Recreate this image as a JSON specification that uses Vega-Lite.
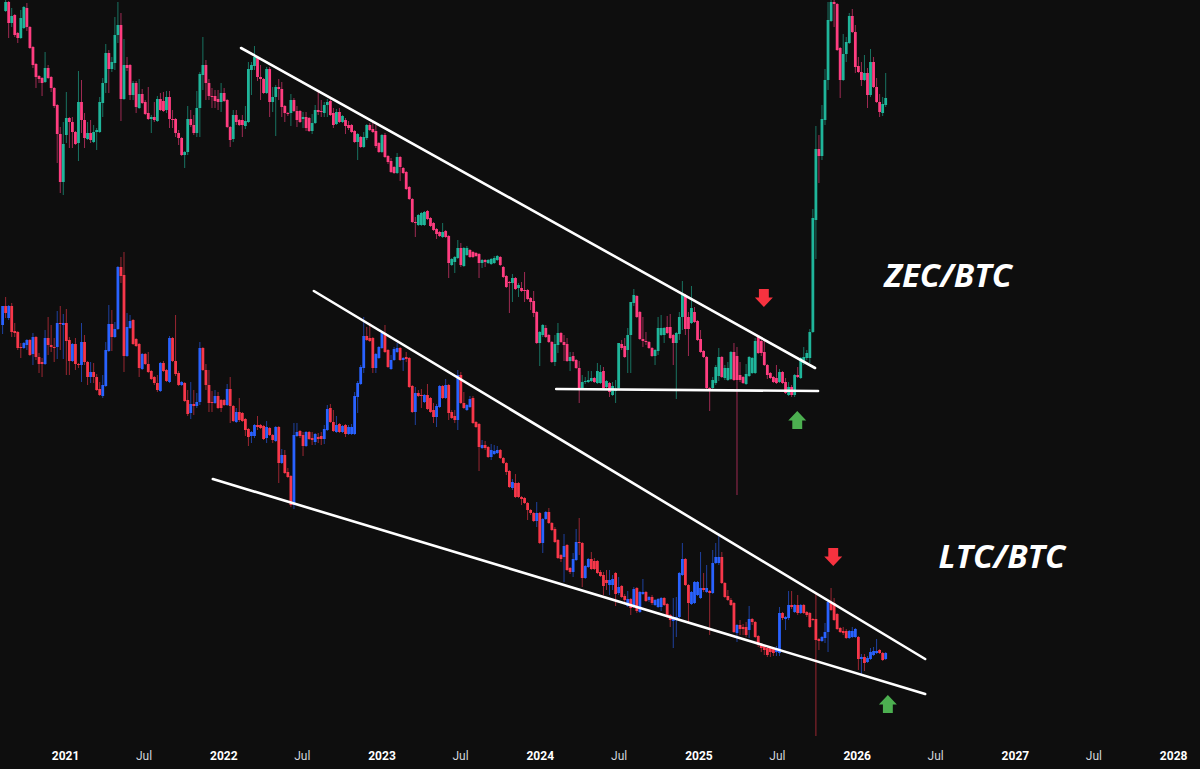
{"$schema":"https://vega.github.io/schema/vega-lite/v6.json","width":1200,"height":769,"padding":0,"autosize":{"type":"none"},"background":"#0e0e0e","view":{"stroke":null},
"datasets":{"candles":[
{"t":"2020-08-10","lo":444,"lh":463,"ll":435,"lc":463},
{"t":"2020-08-17","zo":758,"zh":769,"zl":757,"zc":767,"lo":463,"lh":472,"ll":451,"lc":456},
{"t":"2020-08-24","zo":767,"zh":768,"zl":731,"zc":746,"lo":451,"lh":464,"ll":449,"lc":463},
{"t":"2020-08-31","zo":746,"zh":761,"zl":742,"zc":753,"lo":463,"lh":466,"ll":432,"lc":437},
{"t":"2020-09-07","zo":754,"zh":755,"zl":732,"zc":734,"lo":438,"lh":446,"ll":432,"lc":436},
{"t":"2020-09-14","zo":736,"zh":737,"zl":726,"zc":731,"lo":437,"lh":438,"ll":419,"lc":421},
{"t":"2020-09-21","zo":731,"zh":759,"zl":730,"zc":751,"lo":422,"lh":426,"ll":411,"lc":421},
{"t":"2020-09-28","zo":741,"zh":763,"zl":740,"zc":762,"lo":421,"lh":427,"ll":420,"lc":426},
{"t":"2020-10-05","zo":761,"zh":766,"zl":738,"zc":742,"lo":424,"lh":430,"ll":419,"lc":429},
{"t":"2020-10-12","zo":742,"zh":743,"zl":720,"zc":721,"lo":429,"lh":430,"ll":413,"lc":414},
{"t":"2020-10-19","zo":722,"zh":723,"zl":701,"zc":704,"lo":415,"lh":436,"ll":404,"lc":432},
{"t":"2020-10-26","zo":705,"zh":706,"zl":681,"zc":692,"lo":432,"lh":433,"ll":409,"lc":412},
{"t":"2020-11-02","zo":693,"zh":694,"zl":686,"zc":690,"lo":412,"lh":416,"ll":396,"lc":405},
{"t":"2020-11-09","zo":691,"zh":692,"zl":673,"zc":686,"lo":407,"lh":411,"ll":392,"lc":405},
{"t":"2020-11-16","zo":687,"zh":717,"zl":686,"zc":701,"lo":405,"lh":439,"ll":404,"lc":431},
{"t":"2020-11-23","zo":701,"zh":704,"zl":690,"zc":691,"lo":431,"lh":452,"ll":414,"lc":424},
{"t":"2020-11-30","zo":692,"zh":693,"zl":677,"zc":681,"lo":424,"lh":444,"ll":417,"lc":422},
{"t":"2020-12-07","zo":681,"zh":682,"zl":661,"zc":663,"lo":422,"lh":431,"ll":407,"lc":421},
{"t":"2020-12-14","zo":664,"zh":665,"zl":606,"zc":635,"lo":422,"lh":458,"ll":410,"lc":446},
{"t":"2020-12-21","zo":635,"zh":642,"zl":576,"zc":587,"lo":446,"lh":463,"ll":419,"lc":445},
{"t":"2020-12-28","zo":587,"zh":647,"zl":574,"zc":625,"lo":444,"lh":455,"ll":410,"lc":446},
{"t":"2021-01-04","zo":634,"zh":677,"zl":626,"zc":651,"lo":446,"lh":460,"ll":394,"lc":428},
{"t":"2021-01-11","zo":651,"zh":652,"zl":621,"zc":647,"lo":429,"lh":432,"ll":394,"lc":408},
{"t":"2021-01-18","zo":647,"zh":652,"zl":621,"zc":637,"lo":408,"lh":426,"ll":407,"lc":425},
{"t":"2021-01-25","zo":637,"zh":638,"zl":624,"zc":625,"lo":425,"lh":431,"ll":399,"lc":405},
{"t":"2021-02-01","zo":626,"zh":698,"zl":608,"zc":667,"lo":405,"lh":406,"ll":401,"lc":404},
{"t":"2021-02-08","zo":667,"zh":689,"zl":636,"zc":649,"lo":404,"lh":446,"ll":387,"lc":427},
{"t":"2021-02-15","zo":649,"zh":656,"zl":621,"zc":631,"lo":427,"lh":434,"ll":404,"lc":407},
{"t":"2021-02-22","zo":630,"zh":647,"zl":629,"zc":636,"lo":407,"lh":408,"ll":384,"lc":392},
{"t":"2021-03-01","zo":636,"zh":649,"zl":626,"zc":629,"lo":392,"lh":407,"ll":386,"lc":397},
{"t":"2021-03-08","zo":627,"zh":644,"zl":626,"zc":637,"lo":397,"lh":406,"ll":386,"lc":392},
{"t":"2021-03-15","zo":637,"zh":641,"zl":619,"zc":639,"lo":392,"lh":395,"ll":378,"lc":379},
{"t":"2021-03-22","zo":637,"zh":672,"zl":636,"zc":667,"lo":380,"lh":387,"ll":373,"lc":374},
{"t":"2021-03-29","zo":666,"zh":691,"zl":652,"zc":686,"lo":373,"lh":394,"ll":371,"lc":384},
{"t":"2021-04-05","zo":686,"zh":725,"zl":676,"zc":716,"lo":383,"lh":427,"ll":382,"lc":419},
{"t":"2021-04-12","zo":716,"zh":719,"zl":676,"zc":700,"lo":418,"lh":464,"ll":417,"lc":445},
{"t":"2021-04-19","zo":700,"zh":712,"zl":697,"zc":707,"lo":445,"lh":459,"ll":418,"lc":432},
{"t":"2021-04-26","zo":706,"zh":752,"zl":699,"zc":734,"lo":432,"lh":447,"ll":431,"lc":440},
{"t":"2021-05-03","zo":734,"zh":767,"zl":726,"zc":744,"lo":440,"lh":503,"ll":439,"lc":502},
{"t":"2021-05-10","zo":744,"zh":756,"zl":648,"zc":670,"lo":502,"lh":512,"ll":486,"lc":493},
{"t":"2021-05-17","zo":670,"zh":730,"zl":669,"zc":704,"lo":494,"lh":517,"ll":397,"lc":413},
{"t":"2021-05-24","zo":704,"zh":712,"zl":698,"zc":701,"lo":413,"lh":456,"ll":412,"lc":442},
{"t":"2021-05-31","zo":704,"zh":705,"zl":669,"zc":674,"lo":441,"lh":454,"ll":440,"lc":448},
{"t":"2021-06-07","zo":674,"zh":688,"zl":669,"zc":686,"lo":449,"lh":450,"ll":424,"lc":425},
{"t":"2021-06-14","zo":686,"zh":688,"zl":656,"zc":662,"lo":430,"lh":431,"ll":422,"lc":423},
{"t":"2021-06-21","zo":661,"zh":690,"zl":660,"zc":675,"lo":425,"lh":426,"ll":392,"lc":401},
{"t":"2021-06-28","zo":675,"zh":680,"zl":665,"zc":666,"lo":400,"lh":416,"ll":399,"lc":415},
{"t":"2021-07-05","zo":667,"zh":669,"zl":654,"zc":655,"lo":415,"lh":416,"ll":404,"lc":405},
{"t":"2021-07-12","zo":656,"zh":682,"zl":649,"zc":650,"lo":405,"lh":417,"ll":396,"lc":397},
{"t":"2021-07-19","zo":650,"zh":654,"zl":636,"zc":652,"lo":398,"lh":399,"ll":389,"lc":390},
{"t":"2021-07-26","zo":652,"zh":667,"zl":647,"zc":649,"lo":392,"lh":393,"ll":384,"lc":386},
{"t":"2021-08-02","zo":648,"zh":673,"zl":647,"zc":670,"lo":386,"lh":394,"ll":377,"lc":379},
{"t":"2021-08-09","zo":670,"zh":676,"zl":658,"zc":659,"lo":378,"lh":407,"ll":377,"lc":406},
{"t":"2021-08-16","zo":668,"zh":677,"zl":657,"zc":658,"lo":406,"lh":408,"ll":397,"lc":398},
{"t":"2021-08-23","zo":659,"zh":678,"zl":656,"zc":672,"lo":399,"lh":400,"ll":387,"lc":388},
{"t":"2021-08-30","zo":672,"zh":678,"zl":641,"zc":650,"lo":387,"lh":433,"ll":386,"lc":431},
{"t":"2021-09-06","zo":650,"zh":659,"zl":641,"zc":649,"lo":431,"lh":432,"ll":407,"lc":408},
{"t":"2021-09-13","zo":650,"zh":651,"zl":632,"zc":636,"lo":408,"lh":454,"ll":393,"lc":395},
{"t":"2021-09-20","zo":636,"zh":639,"zl":624,"zc":631,"lo":396,"lh":398,"ll":383,"lc":384},
{"t":"2021-09-27","zo":631,"zh":632,"zl":613,"zc":614,"lo":384,"lh":388,"ll":383,"lc":387},
{"t":"2021-10-04","zo":614,"zh":618,"zl":601,"zc":617,"lo":386,"lh":387,"ll":367,"lc":368},
{"t":"2021-10-11","zo":617,"zh":663,"zl":614,"zc":650,"lo":369,"lh":379,"ll":353,"lc":355},
{"t":"2021-10-18","zo":650,"zh":659,"zl":642,"zc":644,"lo":356,"lh":387,"ll":350,"lc":365},
{"t":"2021-10-25","zo":644,"zh":654,"zl":634,"zc":636,"lo":365,"lh":379,"ll":354,"lc":363},
{"t":"2021-11-01","zo":636,"zh":678,"zl":632,"zc":661,"lo":363,"lh":376,"ll":361,"lc":367},
{"t":"2021-11-08","zo":661,"zh":697,"zl":632,"zc":695,"lo":367,"lh":427,"ll":364,"lc":421},
{"t":"2021-11-15","zo":694,"zh":732,"zl":679,"zc":704,"lo":421,"lh":422,"ll":398,"lc":399},
{"t":"2021-11-22","zo":704,"zh":709,"zl":669,"zc":686,"lo":399,"lh":405,"ll":379,"lc":384},
{"t":"2021-11-29","zo":686,"zh":690,"zl":669,"zc":673,"lo":384,"lh":399,"ll":357,"lc":366},
{"t":"2021-12-06","zo":673,"zh":681,"zl":661,"zc":672,"lo":367,"lh":378,"ll":357,"lc":366},
{"t":"2021-12-13","zo":673,"zh":679,"zl":661,"zc":668,"lo":366,"lh":379,"ll":365,"lc":373},
{"t":"2021-12-20","zo":670,"zh":679,"zl":659,"zc":667,"lo":373,"lh":377,"ll":360,"lc":361},
{"t":"2021-12-27","zo":667,"zh":686,"zl":657,"zc":676,"lo":369,"lh":370,"ll":357,"lc":361},
{"t":"2022-01-03","zo":676,"zh":681,"zl":667,"zc":668,"lo":369,"lh":370,"ll":363,"lc":364},
{"t":"2022-01-10","zo":669,"zh":670,"zl":641,"zc":642,"lo":364,"lh":385,"ll":363,"lc":380},
{"t":"2022-01-17","zo":642,"zh":643,"zl":622,"zc":629,"lo":380,"lh":392,"ll":346,"lc":363},
{"t":"2022-01-24","zo":630,"zh":659,"zl":627,"zc":654,"lo":363,"lh":364,"ll":347,"lc":348},
{"t":"2022-01-31","zo":654,"zh":659,"zl":644,"zc":647,"lo":347,"lh":361,"ll":346,"lc":357},
{"t":"2022-02-07","zo":649,"zh":650,"zl":643,"zc":644,"lo":357,"lh":371,"ll":347,"lc":349},
{"t":"2022-02-14","zo":649,"zh":654,"zl":632,"zc":644,"lo":356,"lh":357,"ll":347,"lc":348},
{"t":"2022-02-21","zo":643,"zh":663,"zl":640,"zc":648,"lo":350,"lh":351,"ll":333,"lc":339},
{"t":"2022-02-28","zo":647,"zh":707,"zl":646,"zc":700,"lo":340,"lh":341,"ll":323,"lc":332},
{"t":"2022-03-07","zo":699,"zh":707,"zl":674,"zc":704,"lo":333,"lh":338,"ll":326,"lc":337},
{"t":"2022-03-14","zo":703,"zh":723,"zl":699,"zc":712,"lo":333,"lh":345,"ll":331,"lc":344},
{"t":"2022-03-21","zo":712,"zh":713,"zl":688,"zc":692,"lo":344,"lh":353,"ll":339,"lc":342},
{"t":"2022-03-28","zo":692,"zh":704,"zl":669,"zc":690,"lo":344,"lh":345,"ll":340,"lc":341},
{"t":"2022-04-04","zo":690,"zh":691,"zl":675,"zc":676,"lo":343,"lh":344,"ll":329,"lc":330},
{"t":"2022-04-11","zo":676,"zh":702,"zl":675,"zc":700,"lo":331,"lh":348,"ll":326,"lc":342},
{"t":"2022-04-18","zo":700,"zh":702,"zl":652,"zc":667,"lo":341,"lh":342,"ll":333,"lc":334},
{"t":"2022-04-25","zo":667,"zh":682,"zl":657,"zc":672,"lo":334,"lh":335,"ll":326,"lc":329},
{"t":"2022-05-02","zo":672,"zh":684,"zl":633,"zc":682,"lo":328,"lh":343,"ll":327,"lc":342},
{"t":"2022-05-09","zo":682,"zh":690,"zl":669,"zc":680,"lo":342,"lh":343,"ll":286,"lc":306},
{"t":"2022-05-16","zo":680,"zh":687,"zl":652,"zc":662,"lo":306,"lh":320,"ll":305,"lc":314},
{"t":"2022-05-23","zo":663,"zh":664,"zl":647,"zc":656,"lo":314,"lh":319,"ll":295,"lc":296},
{"t":"2022-05-30","zo":656,"zh":657,"zl":653,"zc":655,"lo":297,"lh":301,"ll":291,"lc":292},
{"t":"2022-06-06","zo":656,"zh":675,"zl":643,"zc":669,"lo":293,"lh":294,"ll":262,"lc":264},
{"t":"2022-06-13","zo":669,"zh":671,"zl":657,"zc":658,"lo":264,"lh":346,"ll":260,"lc":334},
{"t":"2022-06-20","zo":658,"zh":663,"zl":642,"zc":649,"lo":333,"lh":346,"ll":332,"lc":337},
{"t":"2022-06-27","zo":658,"zh":659,"zl":646,"zc":647,"lo":338,"lh":339,"ll":331,"lc":333},
{"t":"2022-07-04","zo":650,"zh":657,"zl":641,"zc":652,"lo":334,"lh":337,"ll":313,"lc":323},
{"t":"2022-07-11","zo":652,"zh":657,"zl":638,"zc":641,"lo":323,"lh":338,"ll":322,"lc":337},
{"t":"2022-07-18","zo":651,"zh":652,"zl":637,"zc":638,"lo":337,"lh":338,"ll":329,"lc":330},
{"t":"2022-07-25","zo":638,"zh":655,"zl":635,"zc":646,"lo":331,"lh":337,"ll":324,"lc":329},
{"t":"2022-08-01","zo":646,"zh":664,"zl":645,"zc":659,"lo":327,"lh":336,"ll":324,"lc":335},
{"t":"2022-08-08","zo":659,"zh":678,"zl":654,"zc":657,"lo":332,"lh":336,"ll":326,"lc":330},
{"t":"2022-08-15","zo":658,"zh":669,"zl":652,"zc":657,"lo":333,"lh":337,"ll":324,"lc":330},
{"t":"2022-08-22","zo":656,"zh":667,"zl":652,"zc":664,"lo":330,"lh":344,"ll":325,"lc":340},
{"t":"2022-08-29","zo":664,"zh":670,"zl":652,"zc":667,"lo":339,"lh":364,"ll":338,"lc":360},
{"t":"2022-09-05","zo":668,"zh":670,"zl":653,"zc":654,"lo":361,"lh":365,"ll":346,"lc":347},
{"t":"2022-09-12","zo":656,"zh":661,"zl":641,"zc":644,"lo":347,"lh":359,"ll":337,"lc":338},
{"t":"2022-09-19","zo":645,"zh":660,"zl":644,"zc":657,"lo":337,"lh":353,"ll":336,"lc":344},
{"t":"2022-09-26","zo":657,"zh":661,"zl":646,"zc":647,"lo":345,"lh":346,"ll":336,"lc":337},
{"t":"2022-10-03","zo":647,"zh":654,"zl":646,"zc":653,"lo":337,"lh":344,"ll":336,"lc":343},
{"t":"2022-10-10","zo":649,"zh":651,"zl":635,"zc":643,"lo":344,"lh":345,"ll":332,"lc":335},
{"t":"2022-10-17","zo":644,"zh":648,"zl":639,"zc":641,"lo":335,"lh":344,"ll":334,"lc":342},
{"t":"2022-10-24","zo":644,"zh":645,"zl":636,"zc":637,"lo":335,"lh":345,"ll":334,"lc":342},
{"t":"2022-10-31","zo":638,"zh":639,"zl":626,"zc":627,"lo":335,"lh":377,"ll":334,"lc":373},
{"t":"2022-11-07","zo":627,"zh":636,"zl":609,"zc":635,"lo":372,"lh":388,"ll":356,"lc":386},
{"t":"2022-11-14","zo":632,"zh":633,"zl":621,"zc":622,"lo":385,"lh":404,"ll":384,"lc":402},
{"t":"2022-11-21","zo":622,"zh":637,"zl":621,"zc":632,"lo":401,"lh":452,"ll":396,"lc":433},
{"t":"2022-11-28","zo":631,"zh":645,"zl":629,"zc":644,"lo":433,"lh":442,"ll":428,"lc":429},
{"t":"2022-12-05","zo":644,"zh":646,"zl":638,"zc":639,"lo":431,"lh":446,"ll":427,"lc":428},
{"t":"2022-12-12","zo":640,"zh":646,"zl":636,"zc":637,"lo":431,"lh":432,"ll":396,"lc":401},
{"t":"2022-12-19","zo":638,"zh":644,"zl":621,"zc":623,"lo":401,"lh":416,"ll":396,"lc":415},
{"t":"2022-12-26","zo":626,"zh":627,"zl":616,"zc":617,"lo":411,"lh":423,"ll":410,"lc":422},
{"t":"2023-01-02","zo":617,"zh":635,"zl":616,"zc":634,"lo":421,"lh":438,"ll":420,"lc":436},
{"t":"2023-01-09","zo":634,"zh":636,"zl":611,"zc":612,"lo":436,"lh":444,"ll":416,"lc":417},
{"t":"2023-01-16","zo":613,"zh":614,"zl":605,"zc":607,"lo":419,"lh":420,"ll":401,"lc":402},
{"t":"2023-01-23","zo":608,"zh":611,"zl":596,"zc":597,"lo":400,"lh":414,"ll":399,"lc":409},
{"t":"2023-01-30","zo":602,"zh":603,"zl":595,"zc":596,"lo":409,"lh":422,"ll":408,"lc":420},
{"t":"2023-02-06","zo":596,"zh":616,"zl":595,"zc":612,"lo":417,"lh":426,"ll":416,"lc":421},
{"t":"2023-02-13","zo":612,"zh":613,"zl":588,"zc":602,"lo":421,"lh":422,"ll":408,"lc":409},
{"t":"2023-02-20","zo":601,"zh":602,"zl":595,"zc":596,"lo":409,"lh":412,"ll":398,"lc":411},
{"t":"2023-02-27","zo":597,"zh":598,"zl":579,"zc":580,"lo":412,"lh":417,"ll":407,"lc":410},
{"t":"2023-03-06","zo":582,"zh":583,"zl":569,"zc":570,"lo":411,"lh":412,"ll":381,"lc":382},
{"t":"2023-03-13","zo":570,"zh":571,"zl":546,"zc":547,"lo":383,"lh":384,"ll":356,"lc":357},
{"t":"2023-03-20","zo":547,"zh":552,"zl":532,"zc":546,"lo":357,"lh":382,"ll":344,"lc":376},
{"t":"2023-03-27","zo":544,"zh":555,"zl":543,"zc":554,"lo":376,"lh":379,"ll":372,"lc":373},
{"t":"2023-04-03","zo":544,"zh":557,"zl":543,"zc":556,"lo":374,"lh":380,"ll":361,"lc":373},
{"t":"2023-04-10","zo":544,"zh":558,"zl":543,"zc":557,"lo":367,"lh":375,"ll":366,"lc":374},
{"t":"2023-04-17","zo":558,"zh":559,"zl":549,"zc":550,"lo":374,"lh":385,"ll":359,"lc":360},
{"t":"2023-04-24","zo":551,"zh":552,"zl":542,"zc":543,"lo":371,"lh":372,"ll":356,"lc":357},
{"t":"2023-05-01","zo":546,"zh":547,"zl":538,"zc":539,"lo":359,"lh":366,"ll":346,"lc":352},
{"t":"2023-05-08","zo":540,"zh":541,"zl":530,"zc":535,"lo":352,"lh":365,"ll":342,"lc":363},
{"t":"2023-05-15","zo":537,"zh":538,"zl":532,"zc":533,"lo":362,"lh":384,"ll":361,"lc":383},
{"t":"2023-05-22","zo":532,"zh":546,"zl":531,"zc":537,"lo":383,"lh":384,"ll":370,"lc":371},
{"t":"2023-05-29","zo":538,"zh":539,"zl":531,"zc":532,"lo":371,"lh":390,"ll":370,"lc":384},
{"t":"2023-06-05","zo":533,"zh":534,"zl":491,"zc":506,"lo":384,"lh":385,"ll":349,"lc":356},
{"t":"2023-06-12","zo":504,"zh":511,"zl":503,"zc":510,"lo":357,"lh":359,"ll":350,"lc":351},
{"t":"2023-06-19","zo":507,"zh":513,"zl":496,"zc":512,"lo":353,"lh":359,"ll":346,"lc":349},
{"t":"2023-06-26","zo":511,"zh":529,"zl":510,"zc":521,"lo":349,"lh":399,"ll":339,"lc":394},
{"t":"2023-07-03","zo":521,"zh":526,"zl":502,"zc":504,"lo":394,"lh":397,"ll":365,"lc":366},
{"t":"2023-07-10","zo":503,"zh":522,"zl":502,"zc":521,"lo":366,"lh":377,"ll":360,"lc":361},
{"t":"2023-07-17","zo":514,"zh":523,"zl":513,"zc":521,"lo":359,"lh":365,"ll":358,"lc":364},
{"t":"2023-07-24","zo":519,"zh":520,"zl":511,"zc":512,"lo":362,"lh":373,"ll":361,"lc":370},
{"t":"2023-07-31","zo":517,"zh":518,"zl":511,"zc":512,"lo":371,"lh":373,"ll":345,"lc":346},
{"t":"2023-08-07","zo":516,"zh":517,"zl":512,"zc":513,"lo":347,"lh":348,"ll":341,"lc":342},
{"t":"2023-08-14","zo":515,"zh":516,"zl":491,"zc":506,"lo":345,"lh":346,"ll":298,"lc":322},
{"t":"2023-08-21","zo":506,"zh":510,"zl":501,"zc":509,"lo":321,"lh":329,"ll":320,"lc":324},
{"t":"2023-08-28","zo":509,"zh":510,"zl":502,"zc":507,"lo":324,"lh":328,"ll":319,"lc":321},
{"t":"2023-09-04","zo":506,"zh":510,"zl":505,"zc":509,"lo":322,"lh":323,"ll":311,"lc":312},
{"t":"2023-09-11","zo":505,"zh":511,"zl":504,"zc":510,"lo":312,"lh":325,"ll":309,"lc":319},
{"t":"2023-09-18","zo":506,"zh":513,"zl":505,"zc":511,"lo":315,"lh":324,"ll":314,"lc":318},
{"t":"2023-09-25","zo":509,"zh":514,"zl":508,"zc":513,"lo":316,"lh":323,"ll":315,"lc":319},
{"t":"2023-10-02","zo":512,"zh":513,"zl":503,"zc":504,"lo":319,"lh":320,"ll":310,"lc":311},
{"t":"2023-10-09","zo":502,"zh":503,"zl":491,"zc":492,"lo":311,"lh":312,"ll":305,"lc":306},
{"t":"2023-10-16","zo":493,"zh":494,"zl":481,"zc":482,"lo":306,"lh":307,"ll":294,"lc":297},
{"t":"2023-10-23","zo":487,"zh":488,"zl":456,"zc":486,"lo":298,"lh":299,"ll":281,"lc":282},
{"t":"2023-10-30","zo":486,"zh":495,"zl":467,"zc":491,"lo":281,"lh":290,"ll":279,"lc":287},
{"t":"2023-11-06","zo":491,"zh":492,"zl":479,"zc":480,"lo":286,"lh":295,"ll":271,"lc":272},
{"t":"2023-11-13","zo":481,"zh":486,"zl":472,"zc":484,"lo":286,"lh":287,"ll":271,"lc":272},
{"t":"2023-11-20","zo":481,"zh":487,"zl":477,"zc":478,"lo":272,"lh":273,"ll":264,"lc":270},
{"t":"2023-11-27","zo":479,"zh":497,"zl":467,"zc":478,"lo":271,"lh":272,"ll":265,"lc":266},
{"t":"2023-12-04","zo":479,"zh":480,"zl":469,"zc":470,"lo":266,"lh":267,"ll":249,"lc":259},
{"t":"2023-12-11","zo":471,"zh":472,"zl":459,"zc":467,"lo":259,"lh":260,"ll":254,"lc":256},
{"t":"2023-12-18","zo":468,"zh":478,"zl":452,"zc":456,"lo":256,"lh":257,"ll":247,"lc":248},
{"t":"2023-12-25","zo":457,"zh":458,"zl":425,"zc":426,"lo":248,"lh":267,"ll":242,"lc":256},
{"t":"2024-01-01","zo":426,"zh":438,"zl":403,"zc":437,"lo":256,"lh":257,"ll":225,"lc":226},
{"t":"2024-01-08","zo":434,"zh":445,"zl":432,"zc":444,"lo":226,"lh":251,"ll":216,"lc":250},
{"t":"2024-01-15","zo":441,"zh":444,"zl":431,"zc":432,"lo":250,"lh":258,"ll":249,"lc":257},
{"t":"2024-01-22","zo":434,"zh":435,"zl":426,"zc":427,"lo":257,"lh":261,"ll":245,"lc":246},
{"t":"2024-01-29","zo":427,"zh":428,"zl":406,"zc":407,"lo":246,"lh":247,"ll":238,"lc":239},
{"t":"2024-02-05","zo":407,"zh":434,"zl":403,"zc":425,"lo":240,"lh":242,"ll":226,"lc":227},
{"t":"2024-02-12","zo":424,"zh":446,"zl":416,"zc":436,"lo":229,"lh":230,"ll":210,"lc":211},
{"t":"2024-02-19","zo":436,"zh":437,"zl":426,"zc":427,"lo":214,"lh":215,"ll":207,"lc":210},
{"t":"2024-02-26","zo":427,"zh":434,"zl":408,"zc":424,"lo":212,"lh":235,"ll":187,"lc":223},
{"t":"2024-03-04","zo":425,"zh":431,"zl":407,"zc":408,"lo":224,"lh":225,"ll":198,"lc":199},
{"t":"2024-03-11","zo":408,"zh":417,"zl":398,"zc":412,"lo":201,"lh":202,"ll":195,"lc":197},
{"t":"2024-03-18","zo":413,"zh":417,"zl":407,"zc":408,"lo":197,"lh":216,"ll":192,"lc":210},
{"t":"2024-03-25","zo":409,"zh":410,"zl":400,"zc":401,"lo":209,"lh":240,"ll":208,"lc":227},
{"t":"2024-04-01","zo":401,"zh":408,"zl":366,"zc":380,"lo":227,"lh":251,"ll":214,"lc":226},
{"t":"2024-04-08","zo":380,"zh":394,"zl":379,"zc":387,"lo":226,"lh":227,"ll":182,"lc":191},
{"t":"2024-04-15","zo":387,"zh":392,"zl":385,"zc":388,"lo":191,"lh":204,"ll":190,"lc":203},
{"t":"2024-04-22","zo":387,"zh":398,"zl":386,"zc":389,"lo":202,"lh":211,"ll":201,"lc":210},
{"t":"2024-04-29","zo":388,"zh":398,"zl":387,"zc":391,"lo":210,"lh":217,"ll":199,"lc":200},
{"t":"2024-05-06","zo":391,"zh":392,"zl":386,"zc":387,"lo":208,"lh":211,"ll":199,"lc":200},
{"t":"2024-05-13","zo":386,"zh":406,"zl":385,"zc":398,"lo":208,"lh":209,"ll":195,"lc":196},
{"t":"2024-05-20","zo":386,"zh":404,"zl":385,"zc":397,"lo":197,"lh":199,"ll":192,"lc":193},
{"t":"2024-05-27","zo":398,"zh":402,"zl":380,"zc":381,"lo":194,"lh":197,"ll":174,"lc":183},
{"t":"2024-06-03","zo":382,"zh":389,"zl":381,"zc":388,"lo":189,"lh":199,"ll":179,"lc":186},
{"t":"2024-06-10","zo":386,"zh":387,"zl":372,"zc":377,"lo":184,"lh":199,"ll":174,"lc":189},
{"t":"2024-06-17","zo":374,"zh":387,"zl":373,"zc":383,"lo":184,"lh":194,"ll":179,"lc":190},
{"t":"2024-06-24","zo":378,"zh":389,"zl":366,"zc":380,"lo":196,"lh":197,"ll":163,"lc":175},
{"t":"2024-07-01","zo":381,"zh":426,"zl":380,"zc":426,"lo":176,"lh":192,"ll":174,"lc":182},
{"t":"2024-07-08","zo":425,"zh":429,"zl":419,"zc":421,"lo":183,"lh":184,"ll":171,"lc":172},
{"t":"2024-07-15","zo":423,"zh":431,"zl":411,"zc":412,"lo":173,"lh":175,"ll":167,"lc":169},
{"t":"2024-07-22","zo":419,"zh":441,"zl":396,"zc":434,"lo":163,"lh":178,"ll":162,"lc":170},
{"t":"2024-07-29","zo":434,"zh":467,"zl":396,"zc":467,"lo":170,"lh":171,"ll":154,"lc":161},
{"t":"2024-08-05","zo":466,"zh":480,"zl":463,"zc":474,"lo":162,"lh":182,"ll":161,"lc":180},
{"t":"2024-08-12","zo":473,"zh":474,"zl":451,"zc":452,"lo":181,"lh":182,"ll":156,"lc":158},
{"t":"2024-08-19","zo":457,"zh":458,"zl":429,"zc":430,"lo":157,"lh":178,"ll":156,"lc":177},
{"t":"2024-08-26","zo":430,"zh":452,"zl":422,"zc":428,"lo":175,"lh":190,"ll":174,"lc":177},
{"t":"2024-09-02","zo":428,"zh":437,"zl":424,"zc":427,"lo":177,"lh":178,"ll":167,"lc":168},
{"t":"2024-09-09","zo":427,"zh":428,"zl":420,"zc":421,"lo":169,"lh":173,"ll":167,"lc":172},
{"t":"2024-09-16","zo":421,"zh":422,"zl":412,"zc":413,"lo":172,"lh":174,"ll":164,"lc":166},
{"t":"2024-09-23","zo":413,"zh":420,"zl":404,"zc":419,"lo":164,"lh":170,"ll":163,"lc":169},
{"t":"2024-09-30","zo":418,"zh":452,"zl":414,"zc":441,"lo":162,"lh":171,"ll":161,"lc":170},
{"t":"2024-10-07","zo":434,"zh":454,"zl":433,"zc":441,"lo":162,"lh":172,"ll":158,"lc":171},
{"t":"2024-10-14","zo":434,"zh":442,"zl":426,"zc":441,"lo":171,"lh":172,"ll":163,"lc":164},
{"t":"2024-10-21","zo":442,"zh":453,"zl":435,"zc":436,"lo":165,"lh":166,"ll":151,"lc":152},
{"t":"2024-10-28","zo":442,"zh":455,"zl":430,"zc":431,"lo":154,"lh":155,"ll":142,"lc":149},
{"t":"2024-11-04","zo":434,"zh":435,"zl":404,"zc":426,"lo":148,"lh":171,"ll":121,"lc":151},
{"t":"2024-11-11","zo":426,"zh":437,"zl":370,"zc":436,"lo":150,"lh":172,"ll":132,"lc":152},
{"t":"2024-11-18","zo":435,"zh":457,"zl":429,"zc":452,"lo":152,"lh":197,"ll":151,"lc":196},
{"t":"2024-11-25","zo":452,"zh":488,"zl":439,"zc":474,"lo":194,"lh":226,"ll":193,"lc":210},
{"t":"2024-12-02","zo":474,"zh":475,"zl":434,"zc":440,"lo":210,"lh":211,"ll":183,"lc":184},
{"t":"2024-12-09","zo":452,"zh":457,"zl":413,"zc":440,"lo":184,"lh":185,"ll":146,"lc":166},
{"t":"2024-12-16","zo":446,"zh":483,"zl":445,"zc":461,"lo":165,"lh":178,"ll":164,"lc":177},
{"t":"2024-12-23","zo":457,"zh":462,"zl":446,"zc":447,"lo":166,"lh":188,"ll":165,"lc":187},
{"t":"2024-12-30","zo":448,"zh":449,"zl":428,"zc":429,"lo":174,"lh":188,"ll":173,"lc":187},
{"t":"2025-01-06","zo":430,"zh":439,"zl":416,"zc":417,"lo":171,"lh":217,"ll":170,"lc":181},
{"t":"2025-01-13","zo":418,"zh":419,"zl":411,"zc":412,"lo":181,"lh":196,"ll":177,"lc":179},
{"t":"2025-01-20","zo":412,"zh":413,"zl":380,"zc":381,"lo":177,"lh":204,"ll":176,"lc":181},
{"t":"2025-01-27","zo":381,"zh":382,"zl":358,"zc":380,"lo":178,"lh":179,"ll":134,"lc":176},
{"t":"2025-02-03","zo":381,"zh":392,"zl":379,"zc":389,"lo":176,"lh":219,"ll":175,"lc":206},
{"t":"2025-02-10","zo":386,"zh":404,"zl":384,"zc":402,"lo":206,"lh":226,"ll":205,"lc":212},
{"t":"2025-02-17","zo":393,"zh":421,"zl":388,"zc":412,"lo":206,"lh":236,"ll":204,"lc":212},
{"t":"2025-02-24","zo":412,"zh":413,"zl":391,"zc":392,"lo":212,"lh":217,"ll":185,"lc":186},
{"t":"2025-03-03","zo":391,"zh":404,"zl":389,"zc":401,"lo":186,"lh":187,"ll":171,"lc":172},
{"t":"2025-03-10","zo":389,"zh":407,"zl":388,"zc":401,"lo":173,"lh":179,"ll":168,"lc":169},
{"t":"2025-03-17","zo":390,"zh":418,"zl":389,"zc":417,"lo":169,"lh":171,"ll":163,"lc":164},
{"t":"2025-03-24","zo":417,"zh":426,"zl":388,"zc":389,"lo":166,"lh":167,"ll":136,"lc":137},
{"t":"2025-03-31","zo":413,"zh":422,"zl":274,"zc":389,"lo":136,"lh":145,"ll":127,"lc":144},
{"t":"2025-04-07","zo":394,"zh":407,"zl":387,"zc":389,"lo":144,"lh":149,"ll":134,"lc":140},
{"t":"2025-04-14","zo":392,"zh":393,"zl":385,"zc":386,"lo":142,"lh":145,"ll":134,"lc":140},
{"t":"2025-04-21","zo":385,"zh":405,"zl":384,"zc":395,"lo":142,"lh":147,"ll":132,"lc":134},
{"t":"2025-04-28","zo":393,"zh":413,"zl":392,"zc":412,"lo":139,"lh":163,"ll":131,"lc":150},
{"t":"2025-05-05","zo":396,"zh":412,"zl":395,"zc":411,"lo":150,"lh":151,"ll":144,"lc":147},
{"t":"2025-05-12","zo":396,"zh":431,"zl":395,"zc":428,"lo":147,"lh":148,"ll":131,"lc":132},
{"t":"2025-05-19","zo":432,"zh":433,"zl":415,"zc":416,"lo":133,"lh":134,"ll":122,"lc":124},
{"t":"2025-05-26","zo":428,"zh":432,"zl":413,"zc":416,"lo":125,"lh":126,"ll":117,"lc":121},
{"t":"2025-06-02","zo":417,"zh":428,"zl":403,"zc":404,"lo":123,"lh":124,"ll":114,"lc":119},
{"t":"2025-06-09","zo":404,"zh":405,"zl":390,"zc":394,"lo":121,"lh":122,"ll":112,"lc":114},
{"t":"2025-06-16","zo":396,"zh":397,"zl":390,"zc":391,"lo":121,"lh":123,"ll":112,"lc":117},
{"t":"2025-06-23","zo":392,"zh":393,"zl":386,"zc":387,"lo":121,"lh":122,"ll":113,"lc":116},
{"t":"2025-06-30","zo":391,"zh":404,"zl":385,"zc":386,"lo":117,"lh":123,"ll":113,"lc":121},
{"t":"2025-07-07","zo":387,"zh":400,"zl":386,"zc":397,"lo":116,"lh":162,"ll":113,"lc":156},
{"t":"2025-07-14","zo":397,"zh":398,"zl":385,"zc":386,"lo":156,"lh":157,"ll":149,"lc":151},
{"t":"2025-07-21","zo":387,"zh":391,"zl":375,"zc":376,"lo":150,"lh":153,"ll":139,"lc":152},
{"t":"2025-07-28","zo":374,"zh":387,"zl":373,"zc":382,"lo":151,"lh":178,"ll":149,"lc":164},
{"t":"2025-08-04","zo":382,"zh":384,"zl":372,"zc":374,"lo":164,"lh":178,"ll":160,"lc":162},
{"t":"2025-08-11","zo":374,"zh":395,"zl":372,"zc":394,"lo":157,"lh":165,"ll":156,"lc":164},
{"t":"2025-08-18","zo":394,"zh":402,"zl":391,"zc":392,"lo":164,"lh":174,"ll":154,"lc":156},
{"t":"2025-08-25","zo":391,"zh":412,"zl":390,"zc":411,"lo":156,"lh":165,"ll":155,"lc":164},
{"t":"2025-09-01","zo":406,"zh":422,"zl":404,"zc":412,"lo":164,"lh":165,"ll":155,"lc":156},
{"t":"2025-09-08","zo":411,"zh":419,"zl":409,"zc":416,"lo":157,"lh":158,"ll":152,"lc":154},
{"t":"2025-09-15","zo":411,"zh":440,"zl":406,"zc":437,"lo":156,"lh":157,"ll":141,"lc":142},
{"t":"2025-09-22","zo":437,"zh":560,"zl":436,"zc":551,"lo":150,"lh":151,"ll":148,"lc":149},
{"t":"2025-09-29","zo":549,"zh":643,"zl":510,"zc":620,"lo":150,"lh":176,"ll":33,"lc":129},
{"t":"2025-10-06","zo":620,"zh":634,"zl":586,"zc":613,"lo":130,"lh":131,"ll":119,"lc":128},
{"t":"2025-10-13","zo":613,"zh":664,"zl":609,"zc":650,"lo":128,"lh":133,"ll":127,"lc":132},
{"t":"2025-10-20","zo":649,"zh":700,"zl":644,"zc":689,"lo":131,"lh":146,"ll":126,"lc":137},
{"t":"2025-10-27","zo":689,"zh":767,"zl":679,"zc":749,"lo":137,"lh":168,"ll":117,"lc":167},
{"t":"2025-11-03","zo":748,"zh":769,"zl":747,"zc":767,"lo":167,"lh":181,"ll":158,"lc":159},
{"t":"2025-11-10","zo":767,"zh":769,"zl":742,"zc":765,"lo":166,"lh":171,"ll":148,"lc":149},
{"t":"2025-11-17","zo":765,"zh":766,"zl":718,"zc":719,"lo":155,"lh":156,"ll":139,"lc":140},
{"t":"2025-11-24","zo":721,"zh":722,"zl":671,"zc":689,"lo":141,"lh":142,"ll":136,"lc":137},
{"t":"2025-12-01","zo":689,"zh":735,"zl":688,"zc":715,"lo":138,"lh":142,"ll":134,"lc":136},
{"t":"2025-12-08","zo":715,"zh":732,"zl":707,"zc":727,"lo":138,"lh":140,"ll":130,"lc":131},
{"t":"2025-12-15","zo":726,"zh":756,"zl":725,"zc":753,"lo":131,"lh":139,"ll":130,"lc":138},
{"t":"2025-12-22","zo":753,"zh":760,"zl":736,"zc":737,"lo":132,"lh":142,"ll":131,"lc":138},
{"t":"2025-12-29","zo":737,"zh":744,"zl":696,"zc":702,"lo":132,"lh":141,"ll":131,"lc":140},
{"t":"2026-01-05","zo":703,"zh":712,"zl":696,"zc":697,"lo":132,"lh":133,"ll":99,"lc":110},
{"t":"2026-01-12","zo":697,"zh":707,"zl":683,"zc":689,"lo":110,"lh":115,"ll":93,"lc":112},
{"t":"2026-01-19","zo":689,"zh":714,"zl":688,"zc":696,"lo":112,"lh":115,"ll":98,"lc":106},
{"t":"2026-01-26","zo":696,"zh":701,"zl":661,"zc":674,"lo":107,"lh":113,"ll":106,"lc":111},
{"t":"2026-02-02","zo":674,"zh":720,"zl":672,"zc":707,"lo":110,"lh":121,"ll":109,"lc":117},
{"t":"2026-02-09","zo":707,"zh":712,"zl":681,"zc":682,"lo":114,"lh":122,"ll":113,"lc":118},
{"t":"2026-02-16","zo":682,"zh":691,"zl":666,"zc":667,"lo":116,"lh":130,"ll":115,"lc":118},
{"t":"2026-02-23","zo":667,"zh":675,"zl":652,"zc":657,"lo":119,"lh":120,"ll":115,"lc":116},
{"t":"2026-03-02","zo":656,"zh":672,"zl":653,"zc":665,"lo":116,"lh":117,"ll":108,"lc":109},
{"t":"2026-03-09","zo":664,"zh":696,"zl":662,"zc":671,"lo":110,"lh":117,"ll":109,"lc":116}
],
"lines":[
{"name":"ZEC resistance","t":"2022-02-11","v":721},{"name":"ZEC resistance","t":"2025-09-27","v":401},
{"name":"ZEC support","t":"2024-02-08","v":380},{"name":"ZEC support","t":"2025-10-04","v":378},
{"name":"LTC resistance","t":"2022-07-29","v":478},{"name":"LTC resistance","t":"2026-06-08","v":110},
{"name":"LTC support","t":"2021-12-08","v":290},{"name":"LTC support","t":"2026-06-08","v":75}
],
"arrows":[
{"dir":"down","t":"2025-06-01","v":471},{"dir":"up","t":"2025-08-17","v":349},
{"dir":"down","t":"2025-11-08","v":212},{"dir":"up","t":"2026-03-14","v":65}
],
"labels":[
{"label":"ZEC/BTC","t":"2026-07-31","v":492},{"label":"LTC/BTC","t":"2026-12-02","v":211}
]},
"encoding":{"x":{"field":"t","type":"temporal","title":null,"scale":{"type":"utc","domain":["2020-08-04","2028-03-03"],"nice":false,"padding":0},
"axis":{"tickCount":{"interval":"month","step":6},"grid":false,"domain":false,"ticks":false,"labelPadding":-19,"labelBaseline":"top","labelOverlap":false,"labelFlush":false,"labelBound":false,"labelAngle":0,"labelFont":"Roboto","labelFontSize":12,"labelExpr":"utcmonth(datum.value)==0?utcFormat(datum.value,'%Y'):utcFormat(datum.value,'%b')","labelFontWeight":{"condition":{"test":"utcmonth(datum.value)==0","value":"bold"},"value":"normal"},"labelColor":{"condition":{"test":"utcmonth(datum.value)==0","value":"#ffffff"},"value":"#d1d4dc"}}}},
"layer":[
{"data":{"name":"candles"},"transform":[{"filter":"isValid(datum.zo)"}],"mark":{"type":"rule","strokeWidth":1,"opacity":0.6},"encoding":{"y":{"field":"zl","type":"quantitative","scale":{"domain":[0,769],"nice":false,"zero":false},"axis":null},"y2":{"field":"zh"},"color":{"condition":{"test":"datum.zc>=datum.zo","value":"#1fb59a"},"value":"#ff3d80"}}},
{"data":{"name":"candles"},"transform":[{"filter":"isValid(datum.zo)"}],"mark":{"type":"bar","size":2.8},"encoding":{"y":{"field":"zo","type":"quantitative","scale":{"domain":[0,769],"nice":false,"zero":false},"axis":null},"y2":{"field":"zc"},"color":{"condition":{"test":"datum.zc>=datum.zo","value":"#1fb59a"},"value":"#ff3d80"}}},
{"data":{"name":"candles"},"mark":{"type":"rule","strokeWidth":1,"opacity":0.6},"encoding":{"y":{"field":"ll","type":"quantitative","scale":{"domain":[0,769],"nice":false,"zero":false},"axis":null},"y2":{"field":"lh"},"color":{"condition":{"test":"datum.lc>=datum.lo","value":"#2962ff"},"value":"#f7374a"}}},
{"data":{"name":"candles"},"mark":{"type":"bar","size":2.8},"encoding":{"y":{"field":"lo","type":"quantitative","scale":{"domain":[0,769],"nice":false,"zero":false},"axis":null},"y2":{"field":"lc"},"color":{"condition":{"test":"datum.lc>=datum.lo","value":"#2962ff"},"value":"#f7374a"}}},
{"data":{"name":"lines"},"mark":{"type":"line","color":"#ffffff","strokeWidth":2.6,"strokeCap":"round"},"encoding":{"y":{"field":"v","type":"quantitative","scale":{"domain":[0,769],"nice":false,"zero":false},"axis":null},"detail":{"field":"name"}}},
{"data":{"name":"arrows"},"mark":{"type":"point","filled":true,"opacity":1,"strokeWidth":0,"size":324},"encoding":{"y":{"field":"v","type":"quantitative","scale":{"domain":[0,769],"nice":false,"zero":false},"axis":null},"shape":{"field":"dir","type":"nominal","legend":null,"scale":{"domain":["down","up"],"range":["M-0.55,-1L0.55,-1L0.55,-0.05L1,-0.05L0,1L-1,-0.05L-0.55,-0.05Z","M-0.55,1L0.55,1L0.55,0.05L1,0.05L0,-1L-1,0.05L-0.55,0.05Z"]}},"color":{"field":"dir","type":"nominal","legend":null,"scale":{"domain":["down","up"],"range":["#f7323f","#4caf50"]}}}},
{"data":{"name":"labels"},"mark":{"type":"text","color":"#ffffff","font":"Open Sans","fontSize":33,"fontWeight":"bold","fontStyle":"italic","align":"center","baseline":"middle"},"encoding":{"y":{"field":"v","type":"quantitative","scale":{"domain":[0,769],"nice":false,"zero":false},"axis":null},"text":{"field":"label"}}}
]}
